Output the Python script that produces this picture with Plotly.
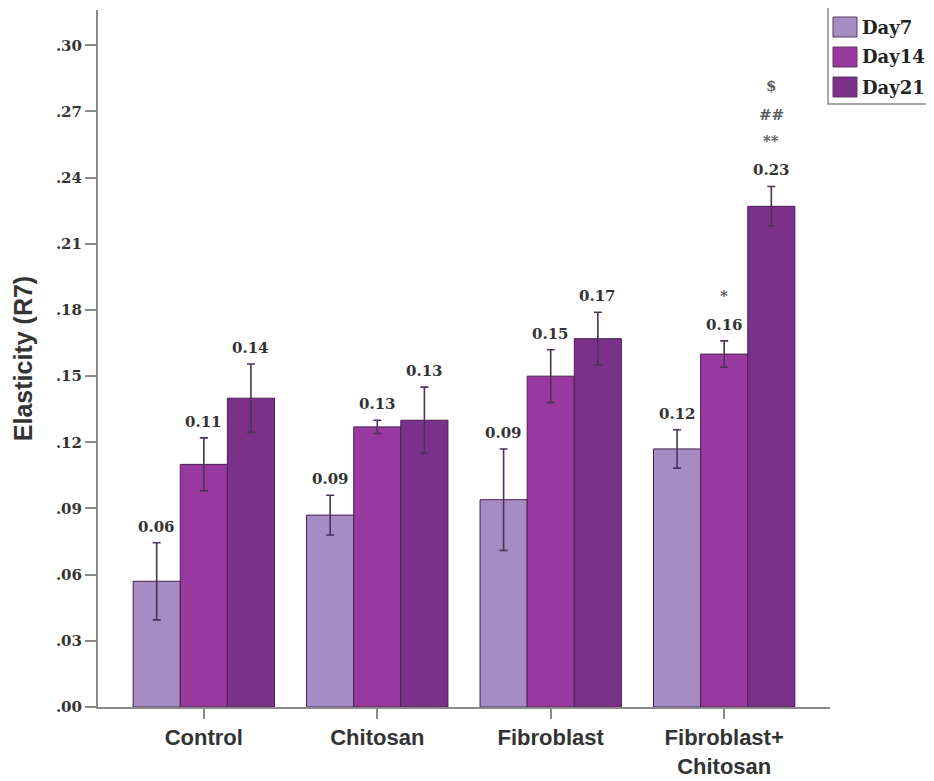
import plotly.graph_objects as go

categories = ["Control", "Chitosan", "Fibroblast", "Fibroblast+<br>Chitosan"]
series_names = ["Day7", "Day14", "Day21"]
day7 = [0.057, 0.087, 0.094, 0.117]
day14 = [0.110, 0.127, 0.150, 0.160]
day21 = [0.140, 0.130, 0.167, 0.227]
err7 = [0.0175, 0.009, 0.023, 0.0087]
err14 = [0.012, 0.003, 0.012, 0.006]
err21 = [0.0155, 0.015, 0.012, 0.009]
labels7 = ["0.06", "0.09", "0.09", "0.12"]
labels14 = ["0.11", "0.13", "0.15", "0.16"]
labels21 = ["0.14", "0.13", "0.17", "0.23"]
sig14 = [[], [], [], ["*"]]
sig21 = [[], [], [], ["**", "##", "$"]]
tick_vals = [0.00, 0.03, 0.06, 0.09, 0.12, 0.15, 0.18, 0.21, 0.24, 0.27, 0.30]
tick_text = [".00", ".03", ".06", ".09", ".12", ".15", ".18", ".21", ".24", ".27", ".30"]
colors = ["#a78bc3", "#99389e", "#7b318a"]

values = [day7, day14, day21]
errs = [err7, err14, err21]
labels = [labels7, labels14, labels21]
sigs = [[[] for _ in categories], sig14, sig21]

# plot-area geometry in figure pixels (page has an 8px body margin)
W, H = 934, 781
OFF = 8
L, T = 98 - OFF, 10 - OFF
R = W - (830 - OFF)
B = H - (707 - OFF)
pw, ph = W - L - R, H - T - B


def px_x(px):
    # px given in page pixels
    return (px - OFF - L) / pw


def px_y(py):
    return (H - B - (py - OFF)) / ph


serif = "DejaVu Serif, serif"
sans = "Liberation Sans, Arial, sans-serif"

fig = go.Figure()
for name, v, e, c in zip(series_names, values, errs, colors):
    fig.add_trace(go.Bar(
        name=name, x=categories, y=v,
        marker=dict(color=c, line=dict(color="#4a2050", width=1)),
        error_y=dict(type="data", array=e, visible=True, color="#4b3358",
                     thickness=1.6, width=4),
        showlegend=False,
    ))

bar_w = (1 - 0.185) / 3
for j in range(3):
    off = (j - 1) * bar_w
    for i in range(len(categories)):
        top = values[j][i] + errs[j][i]
        fig.add_annotation(x=i + off, y=top, text="<b>%s</b>" % labels[j][i],
                           showarrow=False, yanchor="bottom", yshift=5,
                           font=dict(family=serif, size=15, color="#333333"))
        for k, mark in enumerate(sigs[j][i]):
            fig.add_annotation(x=i + off, y=top, text="<b>%s</b>" % mark,
                               showarrow=False, yanchor="bottom", yshift=34 + 26 * k + (3 if k == 2 else 0),
                               font=dict(family=serif, size=15, color="#5a5a5a"))

# custom legend (frame, swatches, labels), positions in page pixels
shapes = [dict(type="rect", xref="paper", yref="paper",
               x0=px_x(828), x1=px_x(950), y0=px_y(104), y1=px_y(2),
               line=dict(color="#8a8a8a", width=1.5), fillcolor="white", layer="above")]
for k, (name, c) in enumerate(zip(series_names, colors)):
    yc = 27 + 30 * k
    shapes.append(dict(type="rect", xref="paper", yref="paper",
                       x0=px_x(833), x1=px_x(857), y0=px_y(yc + 10), y1=px_y(yc - 10),
                       line=dict(color="#5a3a60", width=1), fillcolor=c, layer="above"))
    fig.add_annotation(xref="paper", yref="paper", x=px_x(860), y=px_y(yc),
                       xanchor="left", yanchor="middle", showarrow=False,
                       text="<b>%s</b>" % name,
                       font=dict(family=serif, size=18, color="#222222"))

fig.update_layout(
    width=W, height=H,
    margin=dict(l=L, r=R, t=T, b=B, autoexpand=False),
    paper_bgcolor="white", plot_bgcolor="white",
    barmode="group", bargap=0.185, bargroupgap=0,
    showlegend=False,
    shapes=shapes,
    xaxis=dict(range=[-0.61, 3.61], showline=True, linecolor="#8a8a8a", linewidth=2,
               ticks="outside", ticklen=10, tickcolor="#8a8a8a", tickwidth=2,
               tickfont=dict(family=sans, size=22, color="#333333", weight="bold"),
               showgrid=False, zeroline=False, automargin=False),
    yaxis=dict(range=[0, 0.316], tickvals=tick_vals, ticktext=tick_text,
               showline=True, linecolor="#8a8a8a", linewidth=2,
               ticks="outside", ticklen=11, tickcolor="#8a8a8a", tickwidth=2,
               tickfont=dict(family=serif, size=15, color="#333333", weight="bold"),
               showgrid=False, zeroline=False, automargin=False,
               title=dict(text="<b>Elasticity (R7)</b>", standoff=16,
                          font=dict(family=sans, size=25, color="#333333"))),
)

fig.write_html("out.html")
